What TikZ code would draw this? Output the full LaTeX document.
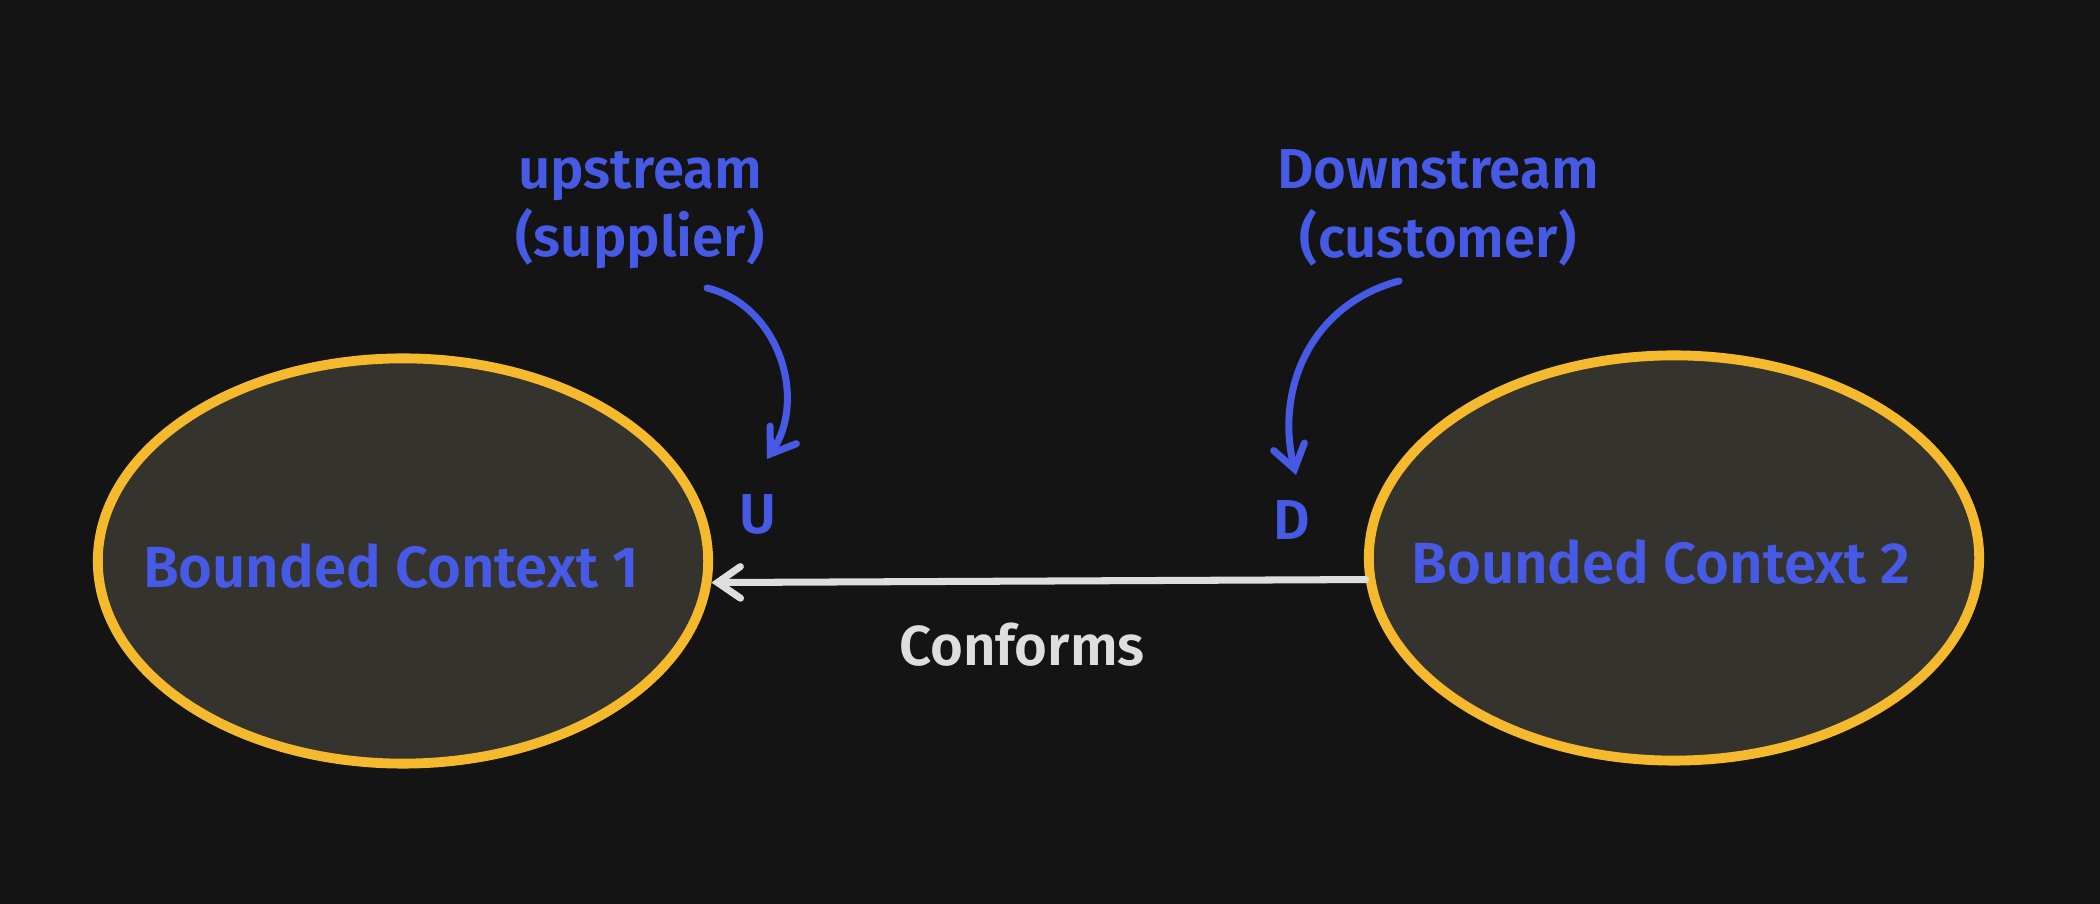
\documentclass[tikz,border=0pt]{standalone}
\usepackage{fontspec}
\setmainfont{Fira Sans}
\newfontfamily\hand{Fira Sans SemiBold}
\usetikzlibrary{arrows.meta,shapes.geometric}
\definecolor{bgc}{RGB}{20,20,20}
\definecolor{ellfill}{RGB}{53,51,46}
\definecolor{ellline}{RGB}{245,185,45}
\definecolor{blu}{RGB}{70,90,230}
\definecolor{lgray}{RGB}{222,222,222}
\tikzset{
  ctx/.style={ellipse, draw=ellline, fill=ellfill, line width=2.8pt, minimum width=6.1cm, minimum height=4.05cm, inner sep=0pt},
  ctxtext/.style={text=blu, font=\hand\fontsize{16.5}{20}\selectfont},
  lbl/.style={text=blu, font=\hand\fontsize{16}{19.5}\selectfont, align=center},
  conn/.style={draw=lgray, line width=2pt, line cap=round, -{Straight Barb[length=6.5pt,width=9pt,line cap=round]}},
  bconn/.style={draw=blu, line width=2pt, line cap=round, -{Straight Barb[length=6.5pt,width=9pt,line cap=round]}}
}
\begin{document}
\begin{tikzpicture}[x=0.01cm,y=-0.01cm]
\fill[bgc] (0,0) rectangle (2100,904);
\useasboundingbox (0,0) rectangle (2100,904);
\node[ctx] (bc1) at (403,561) {};
\node[ctxtext] (t1) at (391,566) {Bounded Context 1};
\node[ctx] (bc2) at (1674,558) {};
\node[ctxtext] (t2) at (1661,562) {Bounded Context 2};
\node[lbl] (up) at (640,210) {upstream\\(supplier)};
\node[lbl] (down) at (1438,208) {Downstream\\(customer)};
\node[lbl] (U) at (758,514) {U};
\node[lbl] (D) at (1292,520) {D};
\node[text=lgray, font=\hand\fontsize{16}{19}\selectfont] (conf) at (1022,645) {Conforms};
\coordinate (a1s) at (707,288);
\coordinate (a1e) at (767,459);
\coordinate (a2s) at (1399,281);
\coordinate (a2e) at (1296,475);
\draw[conn] (bc2.184) -- (bc1.-4.5);
\draw[bconn] (a1s) .. controls (778,305) and (808,398) .. (a1e);
\draw[bconn] (a2s) .. controls (1310,305) and (1275,390) .. (a2e);
\end{tikzpicture}
\end{document}
